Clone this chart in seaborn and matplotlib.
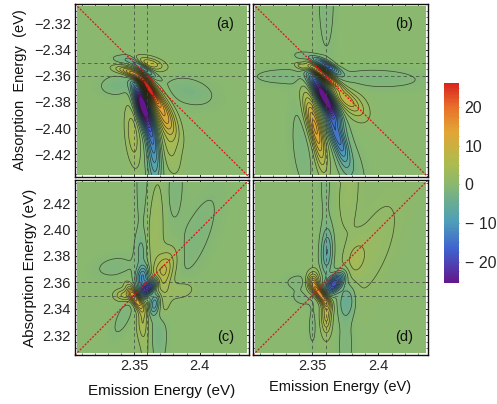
import numpy as np
import matplotlib
matplotlib.use('Agg')
import matplotlib.pyplot as plt
from matplotlib.ticker import MultipleLocator
import seaborn as sns

# Lobes: centre x, centre y, long width, short width, tilt (deg), amplitude
lobes_a = [
    (2.3605, -2.3695, 0.0085, 0.0028, -56, 29),
    (2.3515, -2.3600, 0.0060, 0.0022, -30, 14),
    (2.3420, -2.3555, 0.0060, 0.0022, -10, 5),
    (2.3565, -2.3820, 0.0120, 0.0036, -75, -30),
    (2.3635, -2.4060, 0.0140, 0.0034, -80, -11),
    (2.3650, -2.4300, 0.0130, 0.0036, -85, -6),
    (2.3570, -2.3545, 0.0075, 0.0020, -35, -10),
    (2.3430, -2.3480, 0.0065, 0.0024, -10, -2.6),
    (2.3620, -2.3505, 0.0075, 0.0030, -15, 7),
    (2.3377, -2.3670, 0.0095, 0.0055, 5, -2.4),
    (2.3490, -2.4050, 0.0150, 0.0036, -85, 4.5),
    (2.3720, -2.3880, 0.0130, 0.0046, -65, 12),
    (2.3770, -2.4130, 0.0140, 0.0048, -80, 3.5),
    (2.3920, -2.3720, 0.0140, 0.0075, -15, -2.2),
]
lobes_b = [
    (2.3585, -2.3595, 0.0090, 0.0022, -37, 22),
    (2.3430, -2.3530, 0.0040, 0.0018, -15, 6),
    (2.3610, -2.3525, 0.0075, 0.0022, -30, -15),
    (2.3430, -2.3455, 0.0055, 0.0022, -15, -2.2),
    (2.3590, -2.3760, 0.0125, 0.0034, -60, -30),
    (2.3670, -2.4020, 0.0130, 0.0036, -70, -13),
    (2.3730, -2.4200, 0.0110, 0.0036, -78, -4),
    (2.3510, -2.3960, 0.0150, 0.0036, -75, 13),
    (2.3560, -2.4200, 0.0130, 0.0032, -80, 5),
    (2.3736, -2.3765, 0.0080, 0.0038, -45, 7),
    (2.3825, -2.3833, 0.0085, 0.0055, -55, 4),
    (2.3270, -2.3605, 0.0180, 0.0048, 0, -1.7),
    (2.4000, -2.3620, 0.0270, 0.0060, -2, -1.7),
    (2.3605, -2.3000, 0.0360, 0.0052, 90, -1.7),
    (2.3720, -2.3505, 0.0022, 0.0010, 0, 1.4),
    (2.3425, -2.4142, 0.0250, 0.0060, -85, -1.9),
    (2.3800, -2.4295, 0.0200, 0.0065, -75, -2),
]
lobes_c = [
    (2.3605, 2.3555, 0.0060, 0.0030, 45, -22),
    (2.3510, 2.3480, 0.0065, 0.0024, -60, 16),
    (2.3429, 2.3503, 0.0050, 0.0030, 0, 6),
    (2.3565, 2.3640, 0.0060, 0.0034, 80, -11),
    (2.3555, 2.3840, 0.0090, 0.0034, 90, -3),
    (2.3565, 2.4350, 0.0400, 0.0042, 90, -1.7),
    (2.3655, 2.3445, 0.0060, 0.0028, 80, -9),
    (2.3565, 2.3310, 0.0100, 0.0028, 90, 5),
    (2.3585, 2.3080, 0.0100, 0.0026, 90, 1.5),
    (2.3690, 2.3200, 0.0170, 0.0042, 90, -2.4),
    (2.3720, 2.3670, 0.0120, 0.0052, 70, 8),
    (2.3665, 2.4020, 0.0260, 0.0050, 86, 2.8),
    (2.3850, 2.3540, 0.0080, 0.0050, 15, 2.5),
    (2.3730, 2.3420, 0.0080, 0.0036, 80, 2),
    (2.3975, 2.3950, 0.0300, 0.0090, 68, -1.6),
    (2.3800, 2.4300, 0.0220, 0.0065, 85, -1.6),
    (2.3353, 2.3718, 0.0120, 0.0062, 10, -1.6),
    (2.3420, 2.3340, 0.0120, 0.0042, 65, -1.7),
]
lobes_d = [
    (2.3665, 2.3590, 0.0065, 0.0034, 50, -19),
    (2.3560, 2.3510, 0.0065, 0.0024, -55, 18),
    (2.3505, 2.3610, 0.0050, 0.0032, 85, 9),
    (2.3605, 2.3360, 0.0100, 0.0027, 90, 8),
    (2.3610, 2.3830, 0.0125, 0.0033, 88, -7),
    (2.3760, 2.3460, 0.0090, 0.0045, 85, -5),
    (2.3750, 2.3150, 0.0200, 0.0045, 90, -1.8),
    (2.3825, 2.3780, 0.0095, 0.0050, 75, 3),
    (2.3950, 2.3850, 0.0320, 0.0110, 68, 1.8),
    (2.3775, 2.4300, 0.0250, 0.0065, 85, 1.7),
    (2.3600, 2.4350, 0.0240, 0.0034, 90, -1.6),
    (2.3393, 2.3605, 0.0080, 0.0045, 5, -1.6),
    (2.3419, 2.3478, 0.0060, 0.0040, -20, -1.6),
    (2.3500, 2.3270, 0.0120, 0.0023, 90, -1.6),
]

panel_labels = ['(a)', '(b)', '(c)', '(d)']
dashed_x = [2.35, 2.36]
dashed_y = [2.35, 2.36]
y_ticks = [2.32, 2.34, 2.36, 2.38, 2.40, 2.42]
x_ticks = [2.35, 2.4]
cbar_ticks = [-20, -10, 0, 10, 20]

e_lo, e_hi = 2.3050, 2.4375
v_min, v_max = -25.5, 26.2
n = 340

sns.set_theme(style='ticks')
plt.rcParams['font.family'] = ['Liberation Sans', 'DejaVu Sans']
plt.rcParams['axes.unicode_minus'] = True

stops = ['#64168c', '#3f63cf', '#4f9fb8', '#6fae8c', '#8ab86e', '#aebb4e', '#e3a535', '#e8702a', '#d8241e']
pos = [0.0, 0.17, 0.31, 0.42, (0 - v_min) / (v_max - v_min), 0.60, 0.76, 0.88, 1.0]
cmap = matplotlib.colors.LinearSegmentedColormap.from_list('spec', list(zip(pos, stops)))

levels = list(np.arange(-25, 26, 2.0))


def build_field(xs, ys, lobes):
    xx, yy = np.meshgrid(xs, ys)
    z = np.zeros_like(xx)
    for x0, y0, s_long, s_short, tilt, amp in lobes:
        t = np.deg2rad(tilt)
        u = (xx - x0) * np.cos(t) + (yy - y0) * np.sin(t)
        v = -(xx - x0) * np.sin(t) + (yy - y0) * np.cos(t)
        z += amp * np.exp(-0.5 * (u / s_long) ** 2 - 0.5 * (v / s_short) ** 2)
    return z


def draw_panel(ax, lobes, label, sign):
    # field stops a little short of the frame, leaving the white margin
    inset = 0.0016
    xs = np.linspace(e_lo + inset, e_hi - inset, n)
    if sign < 0:
        ys = np.linspace(-e_hi + inset, -e_lo - inset, n)
        y_low, y_high = -e_hi, -e_lo
    else:
        ys = np.linspace(e_lo + inset, e_hi - inset, n)
        y_low, y_high = e_lo, e_hi
    z = build_field(xs, ys, lobes)

    dx = xs[1] - xs[0]
    dy = ys[1] - ys[0]
    to_cx = lambda v: (np.asarray(v) - xs[0]) / dx + 0.5
    to_cy = lambda v: (np.asarray(v) - ys[0]) / dy + 0.5

    sns.heatmap(z, ax=ax, cmap=cmap, vmin=v_min, vmax=v_max, cbar=False,
                xticklabels=False, yticklabels=False, rasterized=True)
    ax.contour(np.arange(n) + 0.5, np.arange(n) + 0.5, z, levels=levels,
               colors='#1c1c10', linewidths=0.5, alpha=0.75, linestyles='solid')

    ax.set_xlim(to_cx(e_lo), to_cx(e_hi))
    ax.set_ylim(to_cy(y_low), to_cy(y_high))

    for v in dashed_x:
        ax.axvline(to_cx(v), color='#444444', lw=0.5, ls=(0, (5, 4)))
    for v in dashed_y:
        ax.axhline(to_cy(sign * v), color='#444444', lw=0.5, ls=(0, (5, 4)))

    # red dotted diagonal, corner to corner
    ax.plot(to_cx([e_lo, e_hi]), to_cy([sign * e_lo, sign * e_hi]), color='#e8101a',
            lw=0.9, ls=(0, (1.6, 1.2)), clip_on=False)

    ax.set_facecolor('white')
    for s in ax.spines.values():
        s.set_visible(True)
        s.set_color('#111111')
        s.set_linewidth(1.0)

    major_y = [sign * t for t in y_ticks]
    ax.set_yticks(to_cy(major_y))
    ax.set_xticks(to_cx(x_ticks))
    minor_x = np.arange(2.31, 2.44, 0.01)
    minor_y = sign * np.arange(2.31, 2.44, 0.005)
    ax.set_xticks(to_cx(minor_x), minor=True)
    ax.set_yticks(to_cy(minor_y), minor=True)
    ax.tick_params(which='major', direction='in', length=2.5, width=0.6, top=True, right=True,
                   bottom=True, left=True, labelsize=10.5, pad=3, color='#111111')
    ax.tick_params(which='minor', direction='in', length=1.3, width=0.45, top=True, right=True,
                   bottom=True, left=True, color='#111111')
    ax.set_xticklabels([])
    ax.set_yticklabels([])
    ax.set_xlabel('')
    ax.set_ylabel('')

    lx, ly = (0.865, 0.885) if sign < 0 else (0.865, 0.105)
    ax.text(lx, ly, label, transform=ax.transAxes, ha='center', va='center', fontsize=10.5, color='#111111')


W, H = 497, 404
fig = plt.figure(figsize=(W / 100, H / 100), dpi=100, facecolor='white')


def px_axes(l, t, r, b):
    return fig.add_axes([l / W, 1 - b / H, (r - l) / W, (b - t) / H])


ax_a = px_axes(75, 4, 249, 177)
ax_b = px_axes(253, 4, 428, 177)
ax_c = px_axes(75, 180, 249, 355)
ax_d = px_axes(253, 180, 428, 355)

draw_panel(ax_a, lobes_a, panel_labels[0], -1)
draw_panel(ax_b, lobes_b, panel_labels[1], -1)
draw_panel(ax_c, lobes_c, panel_labels[2], 1)
draw_panel(ax_d, lobes_d, panel_labels[3], 1)

ax_a.set_yticklabels(['\u2212%.2f' % t for t in y_ticks])
ax_c.set_yticklabels(['%.2f' % t for t in y_ticks])
ax_c.set_xticklabels(['2.35', '2.4'])
ax_d.set_xticklabels(['2.35', '2.4'])

fig.text(20 / W, 1 - 90 / H, 'Absorption  Energy  (eV)', rotation=90, ha='center', va='center', fontsize=10.5, color='#111111')
fig.text(30 / W, 1 - 268 / H, 'Absorption Energy (eV)', rotation=90, ha='center', va='center', fontsize=11, color='#111111')
fig.text(162 / W, 1 - 391 / H, 'Emission Energy (eV)', ha='center', va='center', fontsize=11, color='#111111')
fig.text(340 / W, 1 - 387 / H, 'Emission Energy (eV)', ha='center', va='center', fontsize=10.5, color='#111111')

cax = px_axes(444, 83, 459, 283)
fig.colorbar(ax_a.collections[0], cax=cax)
cax.set_yticks(cbar_ticks)
cax.set_yticklabels(['\u2212 20', '\u2212 10', '0', '10', '20'])
cax.yaxis.set_minor_locator(MultipleLocator(2.5))
cax.tick_params(which='major', direction='in', length=3.5, width=0.5, labelsize=11.5, pad=4, color='#555555', right=True, left=True)
cax.tick_params(which='minor', direction='in', length=1.5, width=0.4, color='#888888', right=True, left=True)
for s in cax.spines.values():
    s.set_visible(False)

fig.savefig('out.png', dpi=100)
